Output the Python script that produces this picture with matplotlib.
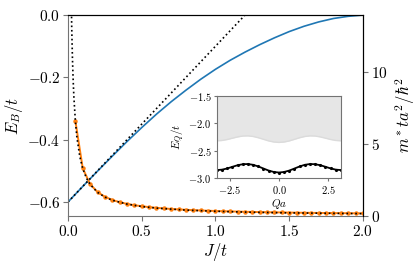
# Binding energy and effective mass vs J/t, with dispersion inset

import numpy as np
import matplotlib
matplotlib.use("Agg")
import matplotlib.pyplot as plt

plt.rcParams["font.family"] = "serif"
plt.rcParams["font.serif"] = ["cmr10"]
plt.rcParams["mathtext.fontset"] = "cm"
plt.rcParams["axes.formatter.use_mathtext"] = True

# binding energy E_B/t (left axis)
J_eb = [0.0, 0.1, 0.2, 0.3, 0.4, 0.5, 0.6, 0.7, 0.8, 0.9, 1.0,
        1.1, 1.2, 1.3, 1.4, 1.5, 1.6, 1.7, 1.8, 1.9, 2.0]
E_B = [-0.600, -0.550, -0.501, -0.453, -0.406, -0.361, -0.318, -0.278, -0.241, -0.206, -0.174,
       -0.145, -0.119, -0.095, -0.073, -0.053, -0.036, -0.022, -0.011, -0.004, 0.000]

# small-J linear asymptote
J_lin = [0.0, 1.2]
E_lin = [-0.6, 0.0]

# effective mass m* t a^2 / hbar^2 (right axis)
J_mass = [0.05, 0.10, 0.15, 0.20, 0.25, 0.30, 0.35, 0.40, 0.45, 0.50,
          0.55, 0.60, 0.65, 0.70, 0.75, 0.80, 0.85, 0.90, 0.95, 1.00,
          1.05, 1.10, 1.15, 1.20, 1.25, 1.30, 1.35, 1.40, 1.45, 1.50,
          1.55, 1.60, 1.65, 1.70, 1.75, 1.80, 1.85, 1.90, 1.95, 2.00]
mass = [6.62, 3.32, 2.22, 1.67, 1.34, 1.12, 0.96, 0.845, 0.753, 0.68,
        0.62, 0.57, 0.528, 0.491, 0.46, 0.433, 0.408, 0.387, 0.367, 0.35,
        0.334, 0.32, 0.307, 0.295, 0.284, 0.274, 0.264, 0.256, 0.248, 0.24,
        0.233, 0.226, 0.22, 0.214, 0.209, 0.203, 0.198, 0.194, 0.189, 0.185]

# fitted mass curve (dotted)
J_fit = [0.02, 0.025, 0.03, 0.035, 0.04, 0.05, 0.06, 0.08, 0.1, 0.125, 0.15,
         0.2, 0.25, 0.3, 0.4, 0.5, 0.6, 0.8, 1.0, 1.25, 1.5, 1.75, 2.0]
mass_fit = [16.5, 13.2, 11.0, 9.43, 8.25, 6.6, 5.5, 4.13, 3.3, 2.64, 2.2,
            1.65, 1.32, 1.1, 0.83, 0.66, 0.55, 0.41, 0.33, 0.26, 0.22, 0.19, 0.165]

# inset: dispersion E_Q/t vs Qa
Q = [-3.142, -2.880, -2.618, -2.356, -2.094, -1.833, -1.571, -1.309, -1.047, -0.785, -0.524, -0.262,
     0.0, 0.262, 0.524, 0.785, 1.047, 1.309, 1.571, 1.833, 2.094, 2.356, 2.618, 2.880, 3.142]
E_cont = [-2.320, -2.314, -2.296, -2.272, -2.249, -2.233, -2.230, -2.241, -2.264, -2.293, -2.322, -2.342,
          -2.350, -2.342, -2.322, -2.293, -2.264, -2.241, -2.230, -2.233, -2.249, -2.272, -2.296, -2.314, -2.320]
E_Q = [-2.855, -2.847, -2.825, -2.795, -2.766, -2.748, -2.745, -2.759, -2.789, -2.827, -2.864, -2.890,
       -2.900, -2.890, -2.864, -2.827, -2.789, -2.759, -2.745, -2.748, -2.766, -2.795, -2.825, -2.847, -2.855]

fig = plt.figure(figsize=(4.16, 2.69), dpi=100)
ax = fig.add_axes([0.1635, 0.197, 0.709, 0.747])
ax2 = ax.twinx()

ax.plot(J_eb, E_B, color="#1f77b4", lw=1.2)
ax.plot(J_lin, E_lin, "k:", lw=1.2)
ax.set_xlim(0, 2)
ax.set_ylim(-0.645, 0)
ax.set_xticks([0, 0.5, 1.0, 1.5, 2.0])
ax.set_yticks([0, -0.2, -0.4, -0.6])
ax.set_xlabel(r"$J/t$", fontsize=12, labelpad=2)
ax.set_ylabel(r"$E_B/t$", fontsize=12, labelpad=2)

ax2.plot(J_mass, mass, color="#ff7f0e", lw=1.4, marker="o", ms=2.2)
ax2.plot(J_fit, mass_fit, "k:", lw=1.2)
ax2.set_ylim(0, 14)
ax2.set_yticks([0, 5, 10])
ax2.set_ylabel(r"$m^*ta^2/\hbar^2$", fontsize=12, labelpad=4)

for a in (ax, ax2):
    a.tick_params(labelsize=11, color="0.45", length=3.5, pad=2)
ax.spines["left"].set_color("0.45")
ax.spines["bottom"].set_color("0.45")
ax2.spines["left"].set_visible(False)
ax2.spines["bottom"].set_visible(False)

ins = fig.add_axes([0.5216, 0.3383, 0.298, 0.305])
ins.fill_between(Q, E_cont, -1.5, color="0.9", lw=0)
ins.plot(Q, E_cont, color="0.86", lw=1.0)
ins.plot(Q, E_Q, "k-", lw=1.3)
ins.plot(Q, E_Q, "k.", ms=2.5)
ins.set_xlim(-np.pi, np.pi)
ins.set_ylim(-3.0, -1.5)
ins.set_xticks([-2.5, 0.0, 2.5])
ins.set_yticks([-1.5, -2.0, -2.5, -3.0])
ins.tick_params(labelsize=7.5, color="0.45", length=2.5, pad=1.5)
for s in ins.spines.values():
    s.set_color("0.45")
ins.set_xlabel(r"$Qa$", fontsize=8, labelpad=1)
ins.set_ylabel(r"$E_Q/t$", fontsize=8, labelpad=1)

fig.savefig("out.png", dpi=100)
